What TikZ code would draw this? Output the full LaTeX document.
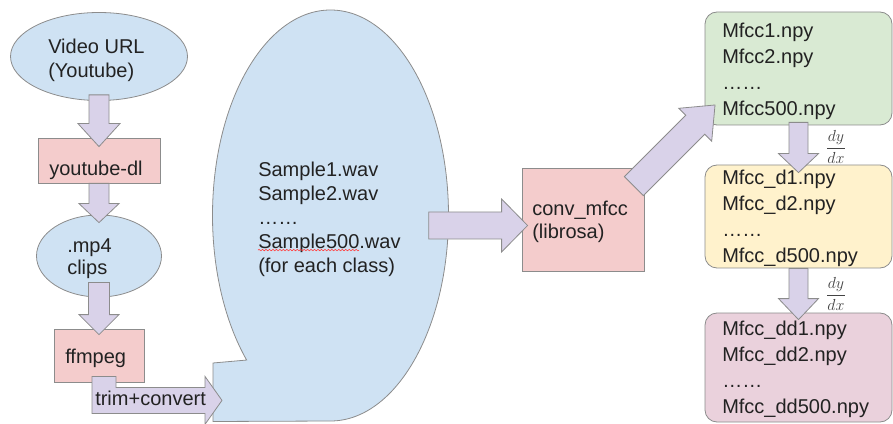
\documentclass[tikz,border=0pt]{standalone}
\usepackage{fontspec}
\setmainfont{Liberation Sans}
\usetikzlibrary{calc,shapes.geometric,decorations.pathmorphing}

\definecolor{bluefill}{HTML}{CFE2F3}
\definecolor{redfill}{HTML}{F4CCCC}
\definecolor{arrowfill}{HTML}{D9D2E9}
\definecolor{greenfill}{HTML}{D9EAD3}
\definecolor{yellowfill}{HTML}{FFF2CC}
\definecolor{pinkfill}{HTML}{EAD1DC}
\definecolor{edge}{HTML}{8C8C8C}
\definecolor{ink}{HTML}{222222}

\tikzset{
  shapeline/.style={draw=edge, line width=0.6pt},
  bubble/.style={ellipse, shapeline, fill=bluefill, inner sep=0pt},
  toolbox/.style={rectangle, shapeline, fill=redfill, inner sep=0pt},
  filebox/.style={rectangle, rounded corners=9pt, shapeline, inner sep=0pt,
                  minimum width=140.25pt},
  blockarrow/.style={fill=arrowfill, draw=edge, line width=0.6pt, line join=miter},
  lbl/.style={anchor=west, inner sep=0pt, align=left, text=ink,
              font=\fontsize{15}{18}\selectfont},
  deriv/.style={inner sep=0pt, text=ink!85, font=\fontsize{13}{15}\selectfont},
  spell/.style={draw=red!75, line width=0.45pt, decorate,
                decoration={snake, amplitude=0.55pt, segment length=2.6pt}},
}

% Block arrow from tail #1 to tip #2; shaft half width #3, head half width #4,
% head length #5 (all in picture units of 0.75pt)
\newcommand\blockarrow[5]{%
  \path let \p1=#1, \p2=#2,
            \n1={atan2(\y2-\y1,\x2-\x1)}, \n2={veclen(\x2-\x1,\y2-\y1)} in
    \pgfextra{\xdef\baAngRaw{\n1}\xdef\baLenRaw{\n2}};
  \pgfmathsetmacro\baAng{\baAngRaw}%
  \pgfmathsetmacro\baLen{\baLenRaw}%
  \pgfmathsetmacro\baS{0.75*#3}%
  \pgfmathsetmacro\baH{0.75*#4}%
  \pgfmathsetmacro\baB{\baLen-0.75*#5}%
  \draw[blockarrow, shift={#1}, rotate=\baAng]
    (0pt,-\baS pt) -- (\baB pt,-\baS pt) -- (\baB pt,-\baH pt) -- (\baLen pt,0pt)
    -- (\baB pt,\baH pt) -- (\baB pt,\baS pt) -- (0pt,\baS pt) -- cycle;
}

\begin{document}
\begin{tikzpicture}[x=0.75pt, y=-0.75pt]
\useasboundingbox (0,0) rectangle (893,424);

% ---- left column: download pipeline ----
\node[bubble, minimum width=132.75pt, minimum height=66pt] (vid) at (99,56.5) {};
\node[toolbox, minimum width=91.5pt, minimum height=33.75pt] (ytdl) at (99,160.5) {};
\node[bubble, minimum width=93.75pt, minimum height=61.5pt] (mp4) at (99,256) {};
\node[toolbox, minimum width=67.5pt, minimum height=39.75pt] (ffm) at (99,355.5) {};

% ---- audio samples: ellipse callout pointing to the lower left ----
\node[ellipse, inner sep=0pt, minimum width=177pt, minimum height=308.25pt] (big) at (330.5,215.5) {};
\draw[shapeline, fill=bluefill]
  ($(big.center)+(0,205.5)$)
  arc[start angle=-90, end angle=224.7, x radius=88.5pt, y radius=154.125pt]
  -- ($(big.center)+(-117.5,147.5)$)
  -- ($(big.center)+(-117.5,206)$) -- cycle;

% ---- feature extraction ----
\node[toolbox, minimum width=91.5pt, minimum height=77.25pt] (conv) at (583,219.5) {};
\node[filebox, fill=greenfill, minimum height=84.75pt] (m0) at (798.5,68.5) {};
\node[filebox, fill=yellowfill, minimum height=77.25pt] (m1) at (798.5,216.5) {};
\node[filebox, fill=pinkfill, minimum height=81.75pt] (m2) at (798.5,367.5) {};

% ---- block arrows ----
\blockarrow{($(vid.south)+(0,-6)$)}{($(ytdl.north)+(0,9)$)}{10}{21}{23}
\blockarrow{(ytdl.south)}{($(mp4.north)+(0,8)$)}{10}{20}{19}
\blockarrow{($(mp4.south)+(0,-15)$)}{($(ffm.north)+(0,6)$)}{10.5}{20}{20}
\blockarrow{($(big.east)+(-20,10)$)}{($(conv.west)+(6,6)$)}{13.5}{26.5}{26}
\blockarrow{($(conv.north east)+(-10.5,18.5)$)}{($(m0.south west)+(10.5,-20.5)$)}{13.4}{23.3}{28}
\blockarrow{($(m0.south)+(0,-3)$)}{($(m1.north)+(0,8)$)}{9.5}{20}{19}
\blockarrow{(m1.south)}{($(m2.north)+(0,7)$)}{9.5}{20}{21}

% trim+convert arrow leaving ffmpeg towards the samples
\coordinate (trimtail) at ($(ffm.south)+(-7,-6)$);
\draw[blockarrow] (trimtail) -- ++(24,0) -- ++(0,11) -- ++(89,0) -- ++(0,-11)
  -- ++(17,24) -- ++(-17,24) -- ++(0,-11) -- ++(-113,0) -- cycle;

% ---- texts ----
\node[lbl] (vidt) at (48,60) {Video URL\\(Youtube)};
\node[lbl] (ytdlt) at (49,170) {youtube-dl};
\node[lbl, font=\fontsize{15}{16.5}\selectfont] (mp4t) at (67,259) {.mp4\\clips};
\node[lbl] (ffmt) at (65,358) {ffmpeg};
\node[lbl] (trimt) at (95,398) {trim+convert};
\node[lbl] (wav) at (258,219.5)
  {Sample1.wav\\Sample2.wav\\……\\Sample500.wav\\(for each class)};
\draw[spell] ($(wav.south west)+(0,-27)$) -- ++(101,0);
\node[lbl, font=\fontsize{15}{17.25}\selectfont] (convt) at (532,221.5) {conv\_mfcc\\(librosa)};
\node[lbl, font=\fontsize{15}{19.5}\selectfont] (m0t) at (722,71)
  {Mfcc1.npy\\Mfcc2.npy\\……\\Mfcc500.npy};
\node[lbl, font=\fontsize{15}{19.5}\selectfont] (m1t) at (722,218.5)
  {Mfcc\_d1.npy\\Mfcc\_d2.npy\\……\\Mfcc\_d500.npy};
\node[lbl, font=\fontsize{15}{19.5}\selectfont] (m2t) at (722,369.5)
  {Mfcc\_dd1.npy\\Mfcc\_dd2.npy\\……\\Mfcc\_dd500.npy};
\node[deriv] (dA) at (836,147) {$\displaystyle\frac{dy}{dx}$};
\node[deriv] (dB) at (836,294) {$\displaystyle\frac{dy}{dx}$};
\end{tikzpicture}
\end{document}
